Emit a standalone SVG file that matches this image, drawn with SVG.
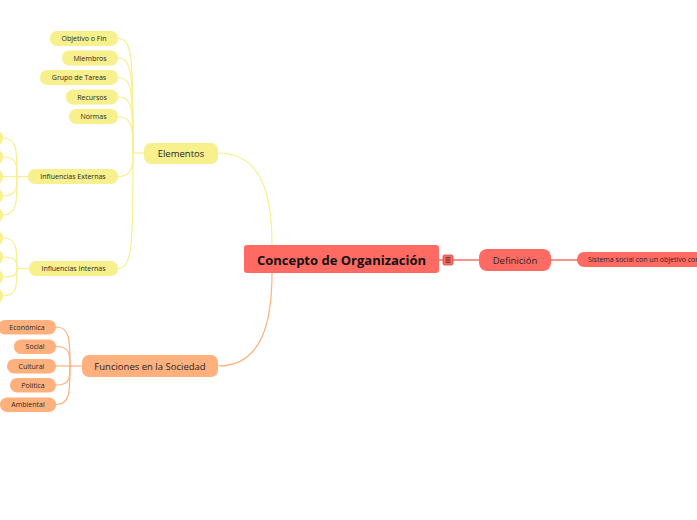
<svg xmlns="http://www.w3.org/2000/svg" width="697" height="520" viewBox="0 0 697 520">
<style>
text{font-family:"Open Sans","Noto Sans","Liberation Sans",sans-serif;text-anchor:middle;dominant-baseline:central;fill:#262626}
.y{fill:#F7F08C}
.o{fill:#FFB07C}
.r{fill:#FF6B63}
.cy{fill:none;stroke:#F7F08C;stroke-width:1.2}
.co{fill:none;stroke:#FFB07C;stroke-width:1.2}
.cr{fill:none;stroke:#FF6B63;stroke-width:1.5}
.s{font-size:7px}
.m{font-size:9.5px}
</style>
<rect width="697" height="520" fill="#ffffff"/>
<g id="connectors">
<path class="cy" d="M272,245 C272,195 262,153 218,153" stroke-width="1.6"/>
<path class="co" d="M272,273 C272,322 262,366 218,366" stroke-width="1.6"/>
<path class="cr" d="M439,260 L443,260 M453,260 L479,260 M551,260 L577,260"/>
<path class="cy" d="M144,153 L134,153"/>
<path class="cy" d="M118,38.5 C133,38.5 133,60 133,153"/>
<path class="cy" d="M118,58 C133,58 133,80 133,153"/>
<path class="cy" d="M118,77.5 C133,77.5 133,95 133,153"/>
<path class="cy" d="M118,97 C133,97 133,110 133,153"/>
<path class="cy" d="M118,116.5 C133,116.5 133,130 133,153"/>
<path class="cy" d="M118,176.5 C133,176.5 133,165 133,153"/>
<path class="cy" d="M118,268.5 C133,268.5 133,240 133,153"/>
<path class="cy" d="M28,176.5 L17,176.5"/>
<path class="cy" d="M3,138 C17,138 17,150 17,176.5"/>
<path class="cy" d="M3,157 C17,157 17,165 17,176.5"/>
<path class="cy" d="M3,176.5 L17,176.5"/>
<path class="cy" d="M3,196 C17,196 17,188 17,176.5"/>
<path class="cy" d="M3,215 C17,215 17,203 17,176.5"/>
<path class="cy" d="M29,268.5 L17,268.5"/>
<path class="cy" d="M3,238 C17,238 17,250 17,268.5"/>
<path class="cy" d="M3,257 C17,257 17,262 17,268.5"/>
<path class="cy" d="M3,277 C17,277 17,273 17,268.5"/>
<path class="cy" d="M3,296 C17,296 17,286 17,268.5"/>
<path class="co" d="M82,366 L70,366"/>
<path class="co" d="M56,327 C70,327 70,340 70,366"/>
<path class="co" d="M56,346.5 C70,346.5 70,354 70,366"/>
<path class="co" d="M56,366 L70,366"/>
<path class="co" d="M56,385 C70,385 70,378 70,366"/>
<path class="co" d="M56,404.5 C70,404.5 70,392 70,366"/>
</g>
<g id="central">
<rect x="244" y="245" width="195" height="28" rx="3" class="r"/>
<text x="341.5" y="259.5" style="font-size:13px;font-weight:bold;fill:#111">Concepto de Organización</text>
</g>
<g id="note-icon">
<rect x="443" y="255" width="10" height="10" rx="1.5" class="r" stroke="#d9463e" stroke-width="0.8"/>
<path d="M445.5,257.8 H450.5 M445.5,260 H450.5 M445.5,262.2 H450.5" stroke="#222" stroke-width="0.9"/>
</g>
<g id="definicion">
<rect x="479" y="249" width="72" height="22" rx="8" class="r"/>
<text x="515" y="260" class="m">Definición</text>
</g>
<g id="sistema">
<rect x="577" y="252" width="130" height="15" rx="7" class="r"/>
<text x="588" y="259.5" class="s" style="text-anchor:start">Sistema social con un objetivo com</text>
</g>
<g id="elementos">
<rect x="144" y="143" width="74" height="21" rx="7" class="y"/>
<text x="181" y="153.5" class="m">Elementos</text>
</g>
<g id="funciones">
<rect x="82" y="355" width="136" height="22" rx="7" class="o"/>
<text x="150" y="366" class="m">Funciones en la Sociedad</text>
</g>
<g id="objetivo"><rect x="50" y="31" width="68" height="15" rx="7" class="y"/><text x="84" y="38.5" class="s">Objetivo o Fin</text></g>
<g id="miembros"><rect x="62" y="50.5" width="56" height="15" rx="7" class="y"/><text x="90" y="58" class="s">Miembros</text></g>
<g id="grupo"><rect x="40" y="70" width="78" height="15" rx="7" class="y"/><text x="79" y="77.5" class="s">Grupo de Tareas</text></g>
<g id="recursos"><rect x="66" y="89.5" width="52" height="15" rx="7" class="y"/><text x="92" y="97" class="s">Recursos</text></g>
<g id="normas"><rect x="69" y="109" width="49" height="15" rx="7" class="y"/><text x="93.5" y="116.5" class="s">Normas</text></g>
<g id="inf-externas"><rect x="28" y="169" width="90" height="15" rx="7" class="y"/><text x="73" y="176.5" class="s">Influencias Externas</text></g>
<g id="inf-internas"><rect x="29" y="261" width="89" height="15" rx="7" class="y"/><text x="73.5" y="268.5" class="s">Influencias Internas</text></g>
<g id="ext-children">
<rect x="-40" y="130.5" width="43" height="15" rx="7" class="y"/>
<rect x="-40" y="149.5" width="43" height="15" rx="7" class="y"/>
<rect x="-40" y="169" width="43" height="15" rx="7" class="y"/>
<rect x="-40" y="188.5" width="43" height="15" rx="7" class="y"/>
<rect x="-40" y="207.5" width="43" height="15" rx="7" class="y"/>
</g>
<g id="int-children">
<rect x="-40" y="230.5" width="43" height="15" rx="7" class="y"/>
<rect x="-40" y="249.5" width="43" height="15" rx="7" class="y"/>
<rect x="-40" y="269.5" width="43" height="15" rx="7" class="y"/>
<rect x="-40" y="288.5" width="43" height="15" rx="7" class="y"/>
</g>
<g id="economica"><rect x="-2" y="320" width="58" height="14.5" rx="7" class="o"/><text x="27" y="327.2" class="s">Económica</text></g>
<g id="social"><rect x="14" y="339.5" width="42" height="14.5" rx="7" class="o"/><text x="35" y="346.8" class="s">Social</text></g>
<g id="cultural"><rect x="7" y="359" width="49" height="14.5" rx="7" class="o"/><text x="31.5" y="366.2" class="s">Cultural</text></g>
<g id="politica"><rect x="10" y="378" width="46" height="14.5" rx="7" class="o"/><text x="33" y="385.2" class="s">Política</text></g>
<g id="ambiental"><rect x="0" y="397.5" width="56" height="14.5" rx="7" class="o"/><text x="28" y="404.8" class="s">Ambiental</text></g>
</svg>
